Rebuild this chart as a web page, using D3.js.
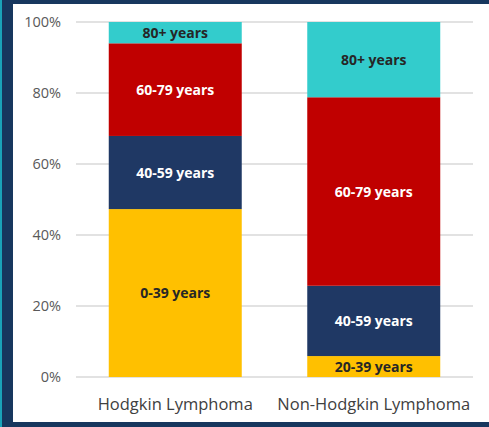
<!DOCTYPE html>
<html>
<head>
<meta charset="utf-8">
<script src="https://cdn.jsdelivr.net/npm/d3@7"></script>
<style>
  html, body { margin: 0; padding: 0; background: #17375e; }
  svg { display: block; }
</style>
</head>
<body>
<svg id="chart" width="489" height="427"></svg>
<script>
// Share of cases by age group, per lymphoma type (percent)
const categories = ["Hodgkin Lymphoma", "Non-Hodgkin Lymphoma"];
const ageGroups = ["young", "40-59", "60-79", "80+"];
const youngLabels = ["0-39 years", "20-39 years"];
const groupLabels = { "40-59": "40-59 years", "60-79": "60-79 years", "80+": "80+ years" };
const youngValues = [47.3, 5.9];
const age40to59 = [20.6, 19.8];
const age60to79 = [26.1, 53.1];
const age80plus = [6.0, 21.2];
const yTicks = [0, 20, 40, 60, 80, 100];

const colors = { "young": "#ffc000", "40-59": "#1f3864", "60-79": "#c00000", "80+": "#33cccc" };
const textColors = { "young": "#262626", "40-59": "#ffffff", "60-79": "#ffffff", "80+": "#262626" };

const rows = categories.map((c, i) => ({
  category: c,
  "young": youngValues[i],
  "40-59": age40to59[i],
  "60-79": age60to79[i],
  "80+": age80plus[i]
}));

const svg = d3.select("#chart");
const W = 489, H = 427;

// frame: teal edge stripe, navy border, white panel
svg.append("rect").attr("width", W).attr("height", H).attr("fill", "#17375e");
svg.append("rect").attr("x", 0).attr("y", 0).attr("width", 2).attr("height", H).attr("fill", "#1aa3b8");
svg.append("rect").attr("x", 13).attr("y", 4).attr("width", W - 13).attr("height", 418).attr("fill", "#ffffff");

const plot = { left: 76, right: 473, top: 22, bottom: 377 };

const x = d3.scaleBand().domain(categories).range([plot.left, plot.right]).paddingInner(0.33).paddingOuter(0.165);
const y = d3.scaleLinear().domain([0, 100]).range([plot.bottom, plot.top]);

// gridlines
svg.append("g")
  .selectAll("line")
  .data(yTicks)
  .join("line")
  .attr("x1", plot.left).attr("x2", plot.right)
  .attr("y1", d => y(d)).attr("y2", d => y(d))
  .attr("stroke", "#d9d9d9").attr("stroke-width", 1.3);

// y axis labels
const yAxis = d3.axisLeft(y).tickValues(yTicks).tickFormat(d => d + "%").tickSize(0).tickPadding(15);
const yg = svg.append("g").attr("transform", `translate(${plot.left},0)`).call(yAxis);
yg.select(".domain").remove();
yg.selectAll("text")
  .attr("font-family", "'Open Sans', sans-serif")
  .attr("font-size", 14.5)
  .attr("fill", "#595959");

// stacked bars
const stack = d3.stack().keys(ageGroups);
const series = stack(rows);

const layers = svg.append("g")
  .selectAll("g")
  .data(series)
  .join("g")
  .attr("fill", d => colors[d.key]);

layers.selectAll("rect")
  .data(d => d.map(p => Object.assign(p, { key: d.key })))
  .join("rect")
  .attr("x", d => x(d.data.category))
  .attr("width", x.bandwidth())
  .attr("y", d => y(d[1]))
  .attr("height", d => y(d[0]) - y(d[1]));

// segment labels
const labels = svg.append("g");
series.forEach(s => {
  s.forEach((p, i) => {
    const text = s.key === "young" ? youngLabels[i] : groupLabels[s.key];
    labels.append("text")
      .attr("x", x(p.data.category) + x.bandwidth() / 2)
      .attr("y", (y(p[0]) + y(p[1])) / 2)
      .attr("dy", "0.36em")
      .attr("text-anchor", "middle")
      .attr("font-family", "'Open Sans', sans-serif")
      .attr("font-weight", "bold")
      .attr("font-size", 14)
      .attr("fill", textColors[s.key])
      .text(text);
  });
});

// category axis
const xAxis = d3.axisBottom(x).tickSize(0).tickPadding(21);
const xg = svg.append("g").attr("transform", `translate(0,${plot.bottom})`).call(xAxis);
xg.select(".domain").remove();
xg.selectAll("text")
  .attr("font-family", "'Open Sans', sans-serif")
  .attr("font-size", 16.5)
  .attr("fill", "#404040");
</script>
</body>
</html>
